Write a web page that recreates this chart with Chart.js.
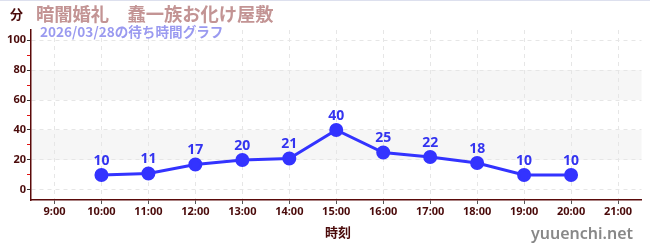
<!DOCTYPE html>
<html>
<head>
<meta charset="utf-8">
<script src="https://cdn.jsdelivr.net/npm/chart.js@4"></script>
<style>
  body { margin: 0; background: #fff; }
  #wrap { position: relative; width: 650px; height: 250px; font-family: "Noto Sans CJK JP", "Noto Sans", sans-serif; }
  #wrap canvas { position: absolute; left: 0; top: 0; }
  .txt { position: absolute; white-space: nowrap; font-weight: bold; }
  #unit { left: 10px; top: 4px; font-size: 13px; color: #4a0a0a; }
  #title { left: 36px; top: 0px; font-size: 18.3px; color: #c39494; }
  #sub { left: 40px; top: 21px; font-size: 13.6px; color: #9a9af0; }
  #xtitle { left: 325px; top: 222px; font-size: 13px; color: #4a0a0a; }
  #mark { left: 531px; top: 222px; font-size: 16px; color: #888; font-family: "Noto Sans", sans-serif; font-weight: 600; }
  #topline { position: absolute; left: 0; top: 0; width: 650px; height: 1px; background: #dde0ee; }
</style>
</head>
<body>
<div id="wrap">
  <canvas id="myChart" width="650" height="250"></canvas>
  <div id="topline"></div>
  <div class="txt" id="unit">分</div>
  <div class="txt" id="title">暗闇婚礼　蠢一族お化け屋敷</div>
  <div class="txt" id="sub">2026/03/28の待ち時間グラフ</div>
  <div class="txt" id="xtitle">時刻</div>
  <div class="txt" id="mark">yuuenchi.net</div>
</div>
<script>
const hours = ["9:00", "10:00", "11:00", "12:00", "13:00", "14:00", "15:00", "16:00", "17:00", "18:00", "19:00", "20:00", "21:00"];
const waitMinutes = [null, 10, 11, 17, 20, 21, 40, 25, 22, 18, 10, 10, null];
const yTicks = [0, 10, 20, 30, 40, 50, 60, 70, 80, 90, 100];
const bands = [[20, 40], [60, 80]];

// light grey bands behind the grid
const bandPlugin = {
  id: "bands",
  beforeDraw(chart) {
    const { ctx, chartArea, scales } = chart;
    ctx.save();
    ctx.fillStyle = "#f6f6f6";
    bands.forEach(([lo, hi]) => {
      const y1 = scales.y.getPixelForValue(hi);
      const y2 = scales.y.getPixelForValue(lo);
      ctx.fillRect(chartArea.left, y1, chartArea.right - chartArea.left, y2 - y1);
    });
    ctx.restore();
  },
};

const labelPlugin = {
  id: "valueLabels",
  afterDatasetsDraw(chart) {
    const { ctx } = chart;
    const meta = chart.getDatasetMeta(0);
    ctx.save();
    ctx.font = "bold 14px 'Noto Sans', sans-serif";
    ctx.fillStyle = "#3434f0";
    ctx.textAlign = "center";
    ctx.textBaseline = "bottom";
    meta.data.forEach((pt, i) => {
      const v = waitMinutes[i];
      if (v == null) return;
      ctx.fillText(v, pt.x, pt.y - 7);
    });
    ctx.restore();
  },
};

const ctx = document.getElementById("myChart").getContext("2d");
const myChart = new Chart(ctx, {
  type: "line",
  data: {
    labels: hours,
    datasets: [
      {
        data: waitMinutes,
        borderColor: "#3333ff",
        backgroundColor: "#3333ff",
        borderWidth: 3,
        pointRadius: 5.5,
        pointHoverRadius: 5.5,
        fill: false,
        tension: 0,
      },
    ],
  },
  options: {
    responsive: false,
    animation: false,
    layout: { padding: { top: 30, right: 8, left: 0, bottom: 0 } },
    plugins: {
      legend: { display: false },
      tooltip: { enabled: false },
    },
    scales: {
      x: {
        offset: true,
        afterFit: (scale) => { scale.height = 50; },
        border: { color: "#5a0a0a", width: 1.5 },
        grid: {
          color: "#e6e6e6",
          tickColor: "#555",
          tickLength: 4,
          offset: false,
          tickBorderDash: [],
        },
        border: { color: "#5a0a0a", width: 1.5, dash: [4, 4] },
        ticks: {
          color: "#4a0a0a",
          font: { size: 11, weight: "bold", family: "'Noto Sans', sans-serif" },
          padding: 1,
          maxRotation: 0,
          autoSkip: false,
        },
      },
      y: {
        min: -6.67,
        max: 106.67,
        afterFit: (scale) => { scale.width = 31; },
        afterBuildTicks: (scale) => { scale.ticks = yTicks.map((v) => ({ value: v })); },
        border: { color: "#5a0a0a", width: 1.5, dash: [4, 4] },
        grid: {
          color: (c) => (c.tick && c.tick.value % 20 === 0 ? "#e6e6e6" : "transparent"),
          tickColor: (c) => (c.tick && c.tick.value % 20 === 0 ? "#333" : "#e01010"),
          tickLength: 4,
          tickBorderDash: [],
        },
        ticks: {
          color: "#4a0a0a",
          font: { size: 11, weight: "bold", family: "'Noto Sans', sans-serif" },
          padding: 1,
          callback: (v) => (v % 20 === 0 ? v : ""),
        },
      },
    },
  },
  plugins: [bandPlugin, labelPlugin],
});
</script>
</body>
</html>
